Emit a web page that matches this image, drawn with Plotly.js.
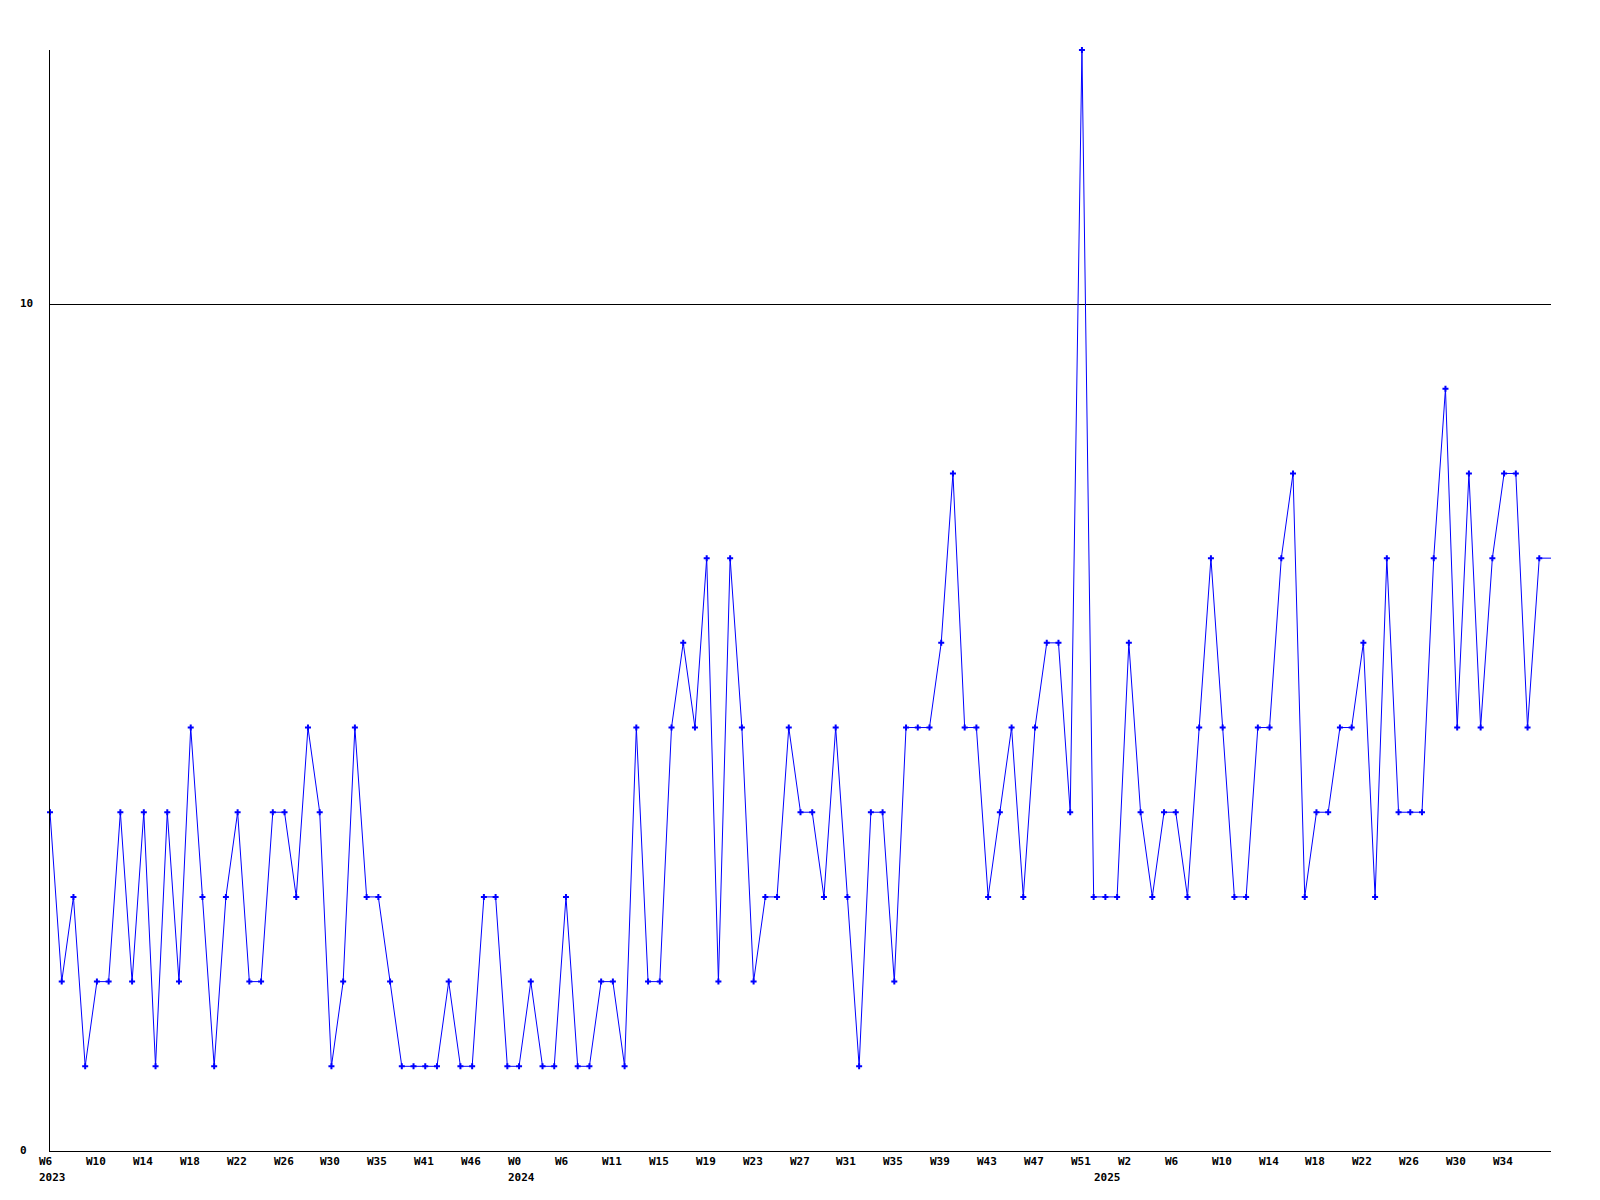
<!DOCTYPE html>
<html>
<head>
<meta charset="utf-8">
<script src="https://cdn.plot.ly/plotly-3.0.1.min.js"></script>
<style>html,body{margin:0;padding:0;background:#fff;}#chart{width:1600px;height:1200px;}</style>
</head>
<body>
<div id="chart"></div>
<script>
// Weekly counts, 2023 W6 onward (one value per week)
const weeklyValues = [
  4,2,3,1,2,2,4,2,4,1,
  4,2,5,3,1,3,4,2,2,4,
  4,3,5,4,1,2,5,3,3,2,
  1,1,1,1,2,1,1,3,3,1,
  1,2,1,1,3,1,1,2,2,1,
  5,2,2,5,6,5,7,2,7,5,
  2,3,3,5,4,4,3,5,3,1,
  4,4,2,5,5,5,6,8,5,5,
  3,4,5,3,5,6,6,4,13,3,
  3,3,6,4,3,4,4,3,5,7,
  5,3,3,5,5,7,8,3,4,4,
  5,5,6,3,7,4,4,4,7,9,
  5,8,5,7,8,8,5,7
];
// current (partial) week: line continues to the edge without a marker
const currentWeekValue = 7;

// Week tick labels, one every 4th week
const weekLabels = ["W6","W10","W14","W18","W22","W26","W30","W35","W41","W46","W0",
  "W6","W11","W15","W19","W23","W27","W31","W35","W39","W43","W47","W51",
  "W2","W6","W10","W14","W18","W22","W26","W30","W34"];
const tickEvery = 4;
// Year labels and the week index where each year starts
const yearLabels = ["2023","2024","2025"];
const yearStartWeek = [0,40,90];
// Y axis labels
const yTickValues = [0,10];
const yTickLabels = ["0","10"];

const allValues = weeklyValues.concat([currentWeekValue]);
const xAll = allValues.map((v,i)=>i);
const xWeeks = weeklyValues.map((v,i)=>i);

const fontSpec = {family:"DejaVu Sans Mono, monospace", size:11, color:"#000", weight:"bold"};

const traces = [
  {x:xAll, y:allValues, type:"scatter", mode:"lines",
   line:{color:"#0000ff", width:1}, hoverinfo:"skip", showlegend:false},
  {x:xWeeks, y:weeklyValues, type:"scatter", mode:"markers",
   marker:{symbol:"cross", size:5, color:"#0000ff", line:{width:0}},
   showlegend:false, cliponaxis:false}
];

const annotations = [];
weekLabels.forEach((t,i)=>{
  annotations.push({text:"<b>"+t+"</b>", x:i*tickEvery, xref:"x", y:0, yref:"paper",
    xanchor:"left", yanchor:"middle", xshift:-13, yshift:-10, showarrow:false, font:fontSpec});
});
yearLabels.forEach((t,i)=>{
  annotations.push({text:"<b>"+t+"</b>", x:yearStartWeek[i], xref:"x", y:0, yref:"paper",
    xanchor:"left", yanchor:"middle", xshift:-13, yshift:-26, showarrow:false, font:fontSpec});
});
yTickValues.forEach((v,i)=>{
  annotations.push({text:"<b>"+yTickLabels[i]+"</b>", x:0, xref:"paper", y:v, yref:"y",
    xanchor:"left", yanchor:"middle", xshift:-32, yshift:1, showarrow:false, font:fontSpec});
});

const layout = {
  width:1600, height:1200,
  margin:{l:50, r:49, t:50, b:49},
  paper_bgcolor:"#ffffff", plot_bgcolor:"#ffffff",
  showlegend:false,
  xaxis:{range:[0, allValues.length-1], showgrid:false, zeroline:false,
    showline:true, linecolor:"#000", linewidth:1, showticklabels:false, ticks:""},
  yaxis:{range:[0,13], tickvals:yTickValues, showgrid:true, gridcolor:"#000", gridwidth:1,
    zeroline:false, showline:true, linecolor:"#000", linewidth:1, showticklabels:false, ticks:""},
  annotations:annotations
};

Plotly.newPlot("chart", traces, layout, {displayModeBar:false, staticPlot:true});
</script>
</body>
</html>
